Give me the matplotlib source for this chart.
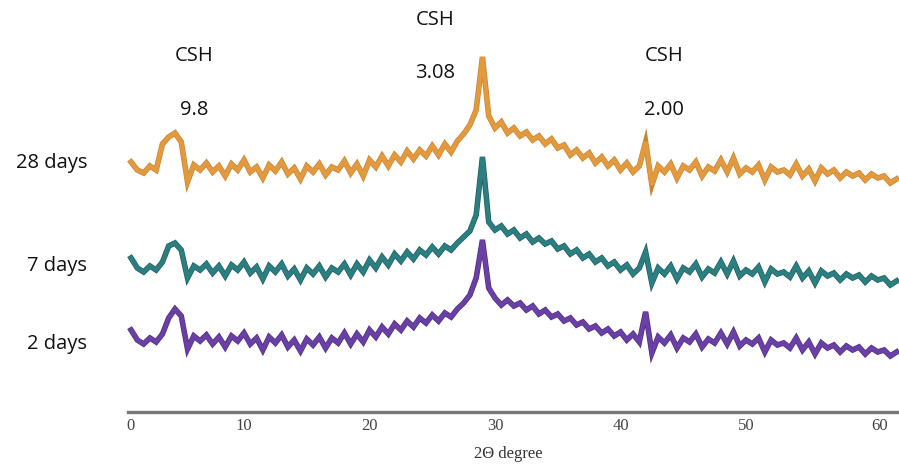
import numpy as np
import matplotlib.pyplot as plt
import matplotlib.patheffects as pe
import matplotlib.transforms as mtransforms

# --------------------- data ---------------------
# scan grid, 2theta in degrees, step 0.5
two_theta = np.arange(1.0, 62.01, 0.5)

# intensity (a.u.) for each curing age
int_28d = [38, 30, 27, 34, 30, 56, 63, 67, 58, 18, 35, 30, 37, 28, 34, 24, 36, 30, 40, 28,
           33, 22, 35, 29, 38, 26, 32, 21, 34, 28, 36, 25, 33, 30, 39, 27, 36, 24, 40, 33,
           44, 34, 45, 38, 49, 41, 50, 44, 54, 45, 56, 48, 59, 66, 75, 90, 143, 84, 72, 78,
           67, 72, 64, 68, 60, 64, 56, 61, 52, 55, 45, 50, 42, 47, 37, 43, 34, 40, 30, 37,
           28, 34, 58, 15, 34, 28, 36, 22, 34, 30, 38, 24, 33, 29, 40, 28, 42, 26, 32, 28,
           35, 20, 33, 28, 30, 25, 36, 24, 31, 19, 32, 26, 30, 22, 28, 24, 27, 20, 26, 22,
           24, 17, 21]
int_7d = [42, 32, 28, 34, 30, 38, 54, 57, 50, 22, 34, 30, 36, 27, 34, 24, 35, 30, 38, 27,
          33, 21, 34, 28, 36, 24, 31, 20, 32, 26, 34, 23, 32, 28, 36, 25, 36, 28, 40, 32,
          43, 35, 46, 39, 48, 41, 50, 45, 53, 46, 54, 50, 57, 63, 69, 85, 143, 78, 70, 74,
          66, 70, 62, 66, 58, 62, 56, 59, 51, 54, 46, 50, 42, 46, 38, 42, 34, 38, 30, 35,
          26, 32, 48, 17, 32, 26, 34, 21, 32, 28, 36, 23, 31, 27, 38, 26, 39, 24, 30, 26,
          33, 18, 31, 26, 28, 23, 34, 22, 29, 17, 29, 24, 27, 20, 26, 22, 25, 18, 24, 20,
          22, 15, 19]
int_2d = [40, 30, 26, 32, 28, 36, 52, 61, 54, 21, 34, 29, 35, 26, 33, 23, 34, 29, 37, 26,
          32, 20, 33, 27, 35, 23, 30, 19, 31, 25, 33, 22, 32, 27, 37, 26, 36, 28, 40, 33,
          43, 36, 46, 40, 49, 43, 52, 47, 55, 49, 57, 53, 61, 67, 75, 92, 130, 82, 72, 65,
          70, 64, 67, 60, 64, 56, 60, 53, 56, 49, 52, 45, 48, 41, 44, 37, 41, 34, 38, 30,
          36, 28, 58, 17, 33, 27, 35, 22, 32, 28, 36, 23, 31, 27, 37, 26, 38, 24, 30, 26,
          32, 18, 30, 25, 27, 22, 32, 20, 28, 16, 27, 22, 25, 18, 24, 20, 23, 16, 22, 18,
          20, 14, 18]

series_labels = ['28 days', '7 days', '2 days']
series_offsets = [212, 112, 42]
series_colors = ['#E39A3E', '#2B7F80', '#6A40A6']
edge_colors = ['#C98530', '#1E5E60', '#4F2F80']

peak_phase = ['CSH', 'CSH', 'CSH']
peak_d = ['9.8', '3.08', '2.00']

xtick_vals = [0, 10, 20, 30, 40, 50, 60]

# --------------------- plot ---------------------
fig = plt.figure(figsize=(8.99, 4.68), dpi=100)
ax = fig.add_axes([118.5 / 899, 56 / 468, 1 - 118.5 / 899, 412 / 468])

for vals, off, col, ecol in zip([int_28d, int_7d, int_2d], series_offsets,
                                series_colors, edge_colors):
    assert len(vals) == len(two_theta)
    ax.plot(two_theta, np.array(vals) + off, color=col, lw=3.0, solid_joinstyle='miter',
            path_effects=[pe.Stroke(linewidth=4.0, foreground=ecol), pe.Normal()])

ax.set_xlim(0, (899 - 118.5) / 12.55)
ax.set_ylim(0, 412)

# sample labels on the left (figure pixel positions)
label_y = [163, 266, 344]
for lab, yp in zip(series_labels, label_y):
    fig.text(87 / 899, 1 - yp / 468, lab, ha='right', va='center', fontsize=14.5,
             family='Open Sans', color='#111111')

# peak annotations
ann_x = [194, 435, 664]
ann_y = [(56, 110), (20, 73), (56, 110)]
for phase, d, xp, (y1, y2) in zip(peak_phase, peak_d, ann_x, ann_y):
    fig.text(xp / 899, 1 - y1 / 468, phase, ha='center', va='center', fontsize=14.5,
             family='Open Sans', color='#111111')
    fig.text(xp / 899, 1 - y2 / 468, d, ha='center', va='center', fontsize=14.5,
             family='Open Sans', color='#111111')

# axis styling
for s in ['top', 'right', 'left']:
    ax.spines[s].set_visible(False)
ax.spines['bottom'].set_color('#777777')
ax.spines['bottom'].set_linewidth(2.4)
ax.spines['bottom'].set_bounds(0.75, (899 - 118.5) / 12.55)
ax.set_yticks([])
ax.set_xticks(xtick_vals)
ax.tick_params(axis='x', length=0, pad=4, labelsize=12, labelcolor='#444444')
for i, t in enumerate(ax.get_xticklabels()):
    t.set_family('Liberation Serif')
    if i == 0:
        t.set_transform(t.get_transform() +
                        mtransforms.ScaledTranslation(0.12, 0, fig.dpi_scale_trans))
    if i == len(xtick_vals) - 1:
        t.set_transform(t.get_transform() +
                        mtransforms.ScaledTranslation(0.08, 0, fig.dpi_scale_trans))
ax.set_xlabel('2Θ degree', family='Liberation Serif', fontsize=12, color='#333333',
              labelpad=9)

fig.savefig('out.png', dpi=100)
